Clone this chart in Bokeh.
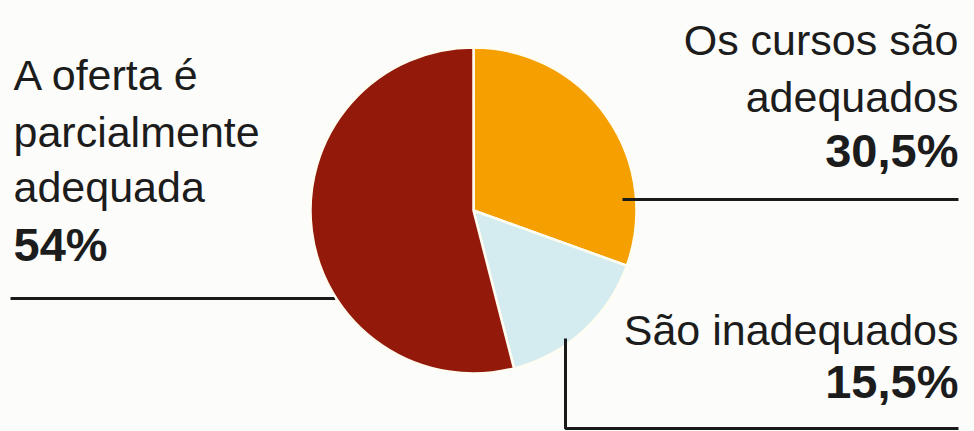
import numpy as np
from bokeh.plotting import figure
from bokeh.models import Range1d, ColumnDataSource
from bokeh.core.properties import value
from bokeh.embed import file_html
from bokeh.resources import INLINE

# ---- data ----
categories = ["Os cursos são adequados", "São inadequados", "A oferta é parcialmente adequada"]
shares = [30.5, 15.5, 54.0]
share_labels = ["30,5%", "15,5%", "54%"]
slice_colors = ["#F5A000", "#D4ECEF", "#931A0B"]

W, H = 974, 431
p = figure(width=W, height=H, output_backend="svg", toolbar_location=None,
           x_range=Range1d(0, W), y_range=Range1d(0, H), min_border=0)
p.axis.visible = False
p.grid.visible = False
p.outline_line_color = None
p.background_fill_color = "#FCFCFA"
p.border_fill_color = "#FCFCFA"

# ---- pie ----
cx, cy, r = 473, 221, 163
frac = np.array(shares) / np.sum(shares)
cum = np.concatenate([[0], np.cumsum(frac)])
start = np.pi / 2 - cum[:-1] * 2 * np.pi
end = np.pi / 2 - cum[1:] * 2 * np.pi
src = ColumnDataSource(dict(start=start, end=end, color=slice_colors, cat=categories))

ink = "#1a1a1a"
# left leader line (under pie)
p.line([10, 335], [133, 133], line_color=ink, line_width=3)

p.wedge(x=cx, y=cy, radius=r, radius_units="screen", start_angle="start", end_angle="end",
        direction="clock", fill_color="color", line_color="#FFFDF2", line_width=2.5, source=src)

# right leader lines (over pie)
p.line([622, 958], [232, 232], line_color=ink, line_width=3)
p.line([565, 565, 958], [93, 3, 3], line_color=ink, line_width=3)

font = value("Liberation Sans")
tc = "#1c1c1c"
reg = 43
big = 47

# left label
p.text(x=[13, 13, 13], y=[357, 300, 245], text=["A oferta é", "parcialmente", "adequada"],
       text_font=font, text_font_size=f"{reg}px", text_color=tc,
       text_align="left", text_baseline="alphabetic")
p.text(x=[13], y=[187], text=[share_labels[2]], text_font=font, text_font_size=f"{big}px",
       text_font_style="bold", text_color=tc, text_align="left", text_baseline="alphabetic")

# top-right label
p.text(x=[958, 958], y=[392, 335], text=["Os cursos são", "adequados"],
       text_font=font, text_font_size=f"{reg}px", text_color=tc,
       text_align="right", text_baseline="alphabetic")
p.text(x=[958], y=[281], text=[share_labels[0]], text_font=font, text_font_size=f"{big}px",
       text_font_style="bold", text_color=tc, text_align="right", text_baseline="alphabetic")

# bottom-right label
p.text(x=[958], y=[102], text=["São inadequados"],
       text_font=font, text_font_size=f"{reg}px", text_color=tc,
       text_align="right", text_baseline="alphabetic")
p.text(x=[958], y=[50], text=[share_labels[1]], text_font=font, text_font_size=f"{big}px",
       text_font_style="bold", text_color=tc, text_align="right", text_baseline="alphabetic")

open("out.html", "w").write(file_html(p, INLINE))
